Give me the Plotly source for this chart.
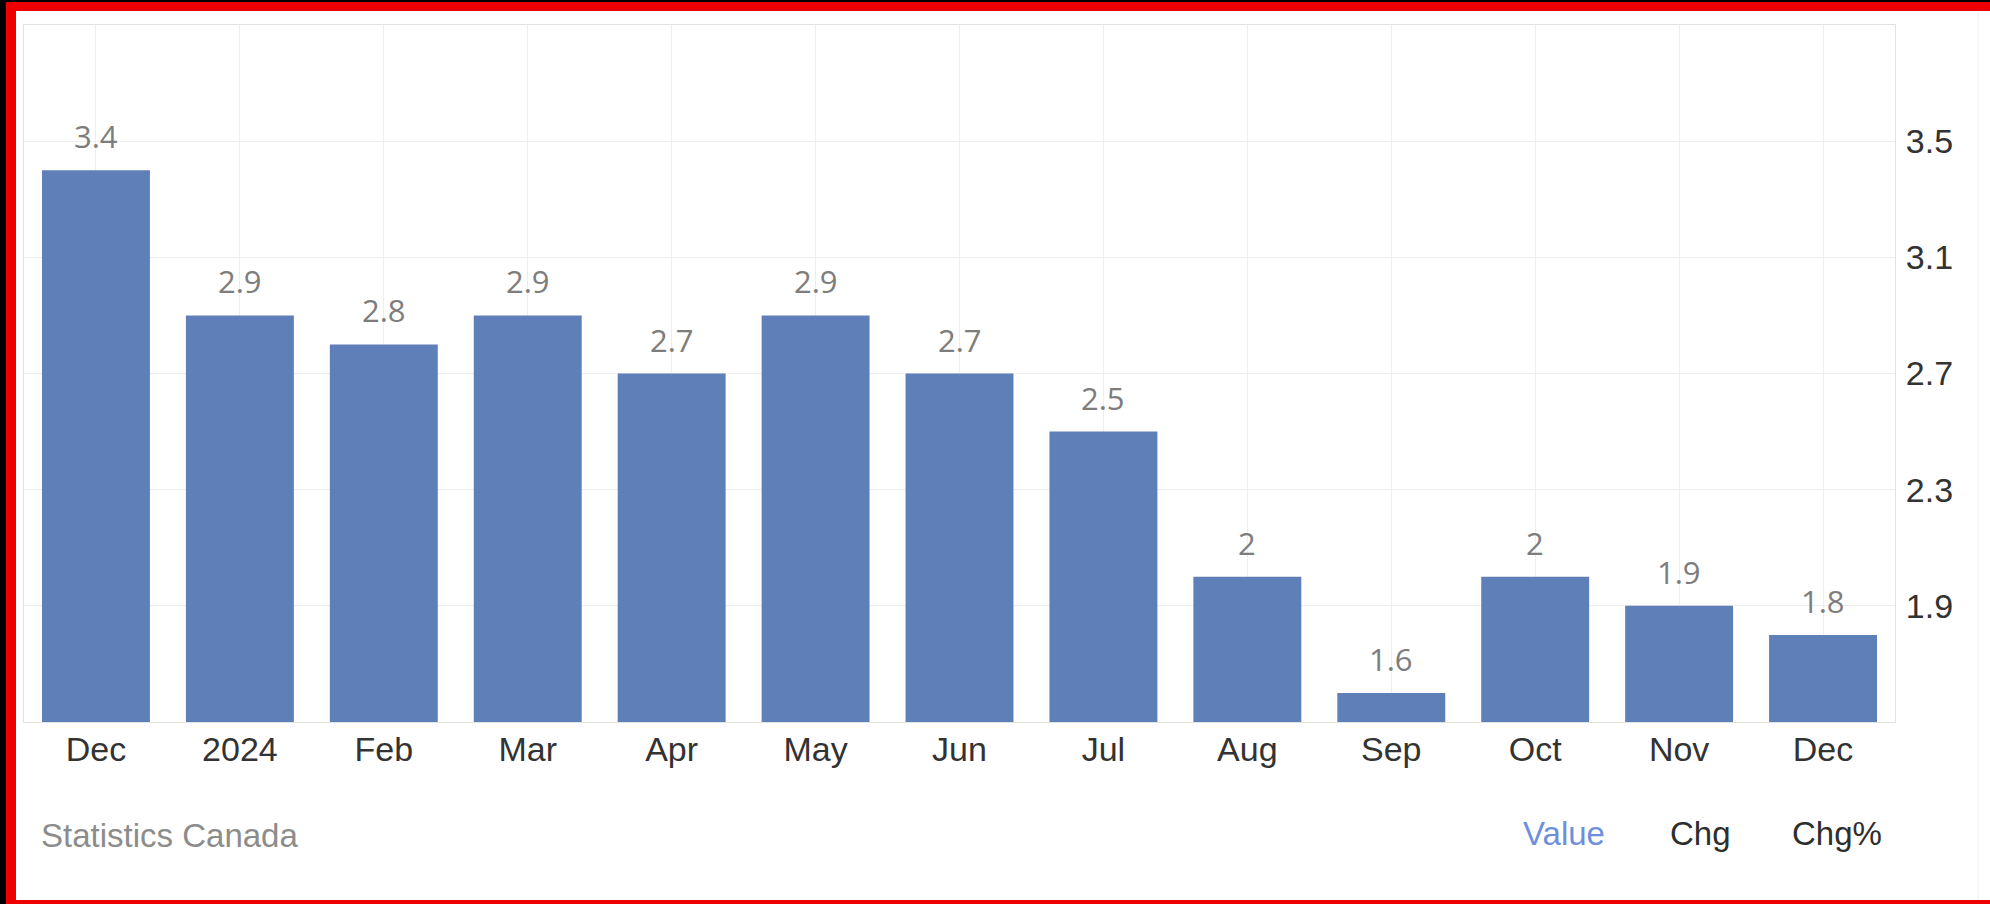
import plotly.graph_objects as go

# Monthly values, Dec 2023 through Dec 2024
month_labels = ["Dec", "2024", "Feb", "Mar", "Apr", "May", "Jun",
                "Jul", "Aug", "Sep", "Oct", "Nov", "Dec"]
values = [3.4, 2.9, 2.8, 2.9, 2.7, 2.9, 2.7, 2.5, 2.0, 1.6, 2.0, 1.9, 1.8]
y_ticks = [1.9, 2.3, 2.7, 3.1, 3.5]

W, H = 1990, 904
L, R, T, B = 24, 95, 25, 182
PW, PH = W - L - R, H - T - B


def px_x(p):
    return (p - L) / PW


def px_y(p):
    return (H - B - p) / PH


positions = list(range(len(values)))

fig = go.Figure()
fig.add_trace(go.Bar(
    x=positions,
    y=values,
    marker=dict(color="#5f7fb9", line=dict(width=0)),
    hoverinfo="skip",
))

annotations = []
for xi, v in zip(positions, values):
    annotations.append(dict(
        x=xi, y=v, xref="x", yref="y",
        text=f"{v:g}", showarrow=False,
        yanchor="middle", yshift=34,
        font=dict(family="Open Sans, Liberation Sans, sans-serif", size=31, color="#7d7d7d"),
    ))

annotations.append(dict(
    x=px_x(39), y=px_y(835), xref="paper", yref="paper",
    text="Statistics Canada", showarrow=False, xanchor="left", yanchor="middle",
    font=dict(family="Liberation Sans, Arial, sans-serif", size=33, color="#8c8c8c"),
))
for label, cx, col in [("Value", 1564, "#6f8fdc"), ("Chg", 1700, "#2e2e2e"), ("Chg%", 1837, "#2e2e2e")]:
    annotations.append(dict(
        x=px_x(cx), y=px_y(833), xref="paper", yref="paper",
        text=label, showarrow=False, xanchor="center", yanchor="middle",
        font=dict(family="Liberation Sans, Arial, sans-serif", size=33, color=col),
    ))

shapes = [
    # red frame with white panel inside
    dict(type="rect", xref="paper", yref="paper", layer="below",
         x0=px_x(6), x1=px_x(W + 40), y0=px_y(H + 40), y1=px_y(2),
         fillcolor="#ee0000", line=dict(width=0)),
    dict(type="rect", xref="paper", yref="paper", layer="below",
         x0=px_x(16), x1=px_x(W + 40), y0=px_y(900), y1=px_y(11),
         fillcolor="#ffffff", line=dict(width=0)),
    dict(type="line", xref="paper", yref="paper", layer="below",
         x0=px_x(1978), x1=px_x(1978), y0=px_y(900), y1=px_y(11),
         line=dict(color="#f0f0f0", width=1)),
]

fig.update_layout(
    width=W, height=H,
    margin=dict(l=L, r=R, t=T, b=B, pad=0),
    paper_bgcolor="#000000",
    plot_bgcolor="#ffffff",
    showlegend=False,
    bargap=0.25,
    annotations=annotations,
    shapes=shapes,
    xaxis=dict(
        range=[-0.5, len(values) - 0.5],
        tickmode="array", tickvals=positions, ticktext=month_labels,
        showgrid=True, gridcolor="#eeeeee", gridwidth=1,
        showline=True, linecolor="#e2e2e2", linewidth=1, mirror=True,
        ticks="", ticklabelstandoff=-3,
        tickfont=dict(family="Liberation Sans, Arial, sans-serif", size=34, color="#333333"),
        zeroline=False, fixedrange=True,
    ),
    yaxis=dict(
        range=[1.5, 3.9], side="right",
        tickmode="array", tickvals=y_ticks,
        ticktext=[f"{t:.1f}" for t in y_ticks],
        showgrid=True, gridcolor="#eeeeee", gridwidth=1,
        showline=True, linecolor="#e2e2e2", linewidth=1, mirror=True,
        ticks="", ticklabelstandoff=3,
        tickfont=dict(family="Liberation Sans, Arial, sans-serif", size=34, color="#333333"),
        zeroline=False, fixedrange=True,
    ),
)

fig.write_html("out.html", config={"displayModeBar": False})
